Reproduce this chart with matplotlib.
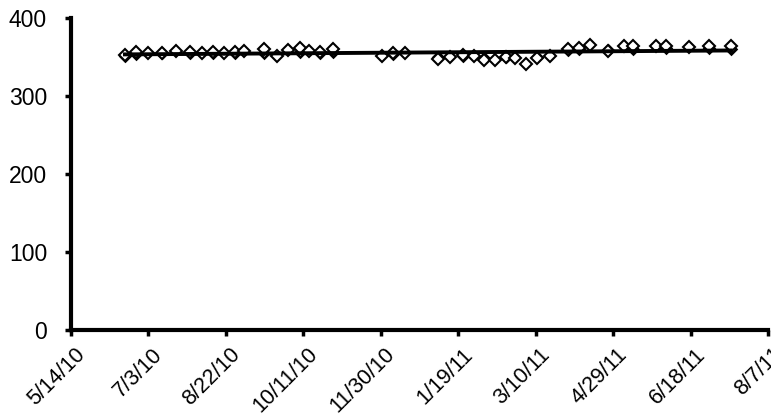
import matplotlib
matplotlib.use("Agg")
import matplotlib.pyplot as plt
import matplotlib.transforms as mtransforms
import numpy as np
import pandas as pd

plt.rcParams['font.family'] = ['Liberation Sans', 'DejaVu Sans']

start_date = "2010-05-14"
days_a = [35, 42, 50, 59, 68, 77, 85, 92, 99, 106, 112, 125, 133, 140, 148, 154, 161, 169,
          201, 208, 216, 237, 245, 253, 260, 267, 274, 281, 287, 294, 301, 309,
          321, 328, 335, 347, 357, 363, 378, 384, 399, 412, 426]
values_a = [353, 357, 355, 356, 358, 357, 356, 357, 356, 357, 358, 360, 351, 359, 362, 358, 357, 360,
            352, 355, 355, 348, 350, 353, 351, 346, 347, 350, 349, 342, 349, 351,
            360, 362, 366, 358, 364, 365, 364, 365, 363, 365, 365]
days_b = [35, 42, 59, 77, 92, 106, 125, 148, 161, 169, 208, 237, 253, 267, 281, 301,
          321, 328, 347, 363, 384, 412, 426]
values_b = [352, 354, 355, 355, 355, 356, 356, 357, 356, 357, 354, 350, 351, 349, 350, 350,
            359, 360, 359, 361, 362, 362, 361]
x_ticks_days = [0, 50, 100, 150, 200, 250, 300, 350, 400, 450]
y_ticks = [0, 100, 200, 300, 400]

base = pd.Timestamp(start_date)
dates_a = [base + pd.Timedelta(days=d) for d in days_a]
dates_b = [base + pd.Timedelta(days=d) for d in days_b]
tick_dates = [base + pd.Timedelta(days=d) for d in x_ticks_days]

fig = plt.figure(figsize=(7.71, 4.18), dpi=100)
ax = fig.add_axes([0.0917, 0.2105, 0.9044, 0.7457])

ax.plot(dates_b, values_b, linestyle='none', marker='D', markersize=5.5,
        markerfacecolor='white', markeredgecolor='black', markeredgewidth=1.8, zorder=3,
        clip_on=False)
ax.plot(dates_a, values_a, linestyle='none', marker='D', markersize=6.3,
        markerfacecolor='white', markeredgecolor='black', markeredgewidth=1.5, zorder=3,
        clip_on=False)

# linear trend line
all_days = np.array(days_a + days_b, dtype=float)
all_vals = np.array(values_a + values_b, dtype=float)
k, b0 = np.polyfit(all_days, all_vals, 1)
d0, d1 = min(all_days), max(all_days)
ax.plot([base + pd.Timedelta(days=d0), base + pd.Timedelta(days=d1)],
        [k * d0 + b0, k * d1 + b0], color='black', linewidth=2.8, zorder=4)

ax.set_xlim(tick_dates[0], tick_dates[-1])
ax.set_ylim(0, 400)
ax.set_xticks(tick_dates)
ax.set_xticklabels([f"{t.month}/{t.day}/{t.strftime('%y')}" for t in tick_dates],
                   rotation=45, ha='right', va='top', rotation_mode='anchor', fontsize=15.5)
ax.set_yticks(y_ticks)

for s in ['top', 'right']:
    ax.spines[s].set_visible(False)
for s in ['left', 'bottom']:
    ax.spines[s].set_linewidth(3)
ax.tick_params(axis='both', direction='out', length=4, width=2.5, colors='black')
ax.tick_params(axis='y', pad=13, labelsize=16.5)
ax.tick_params(axis='x', pad=6)

offset = mtransforms.ScaledTranslation(4 / 100, 0, fig.dpi_scale_trans)
for lab in ax.get_xticklabels():
    lab.set_transform(lab.get_transform() + offset)

fig.savefig("out.png", dpi=100)
